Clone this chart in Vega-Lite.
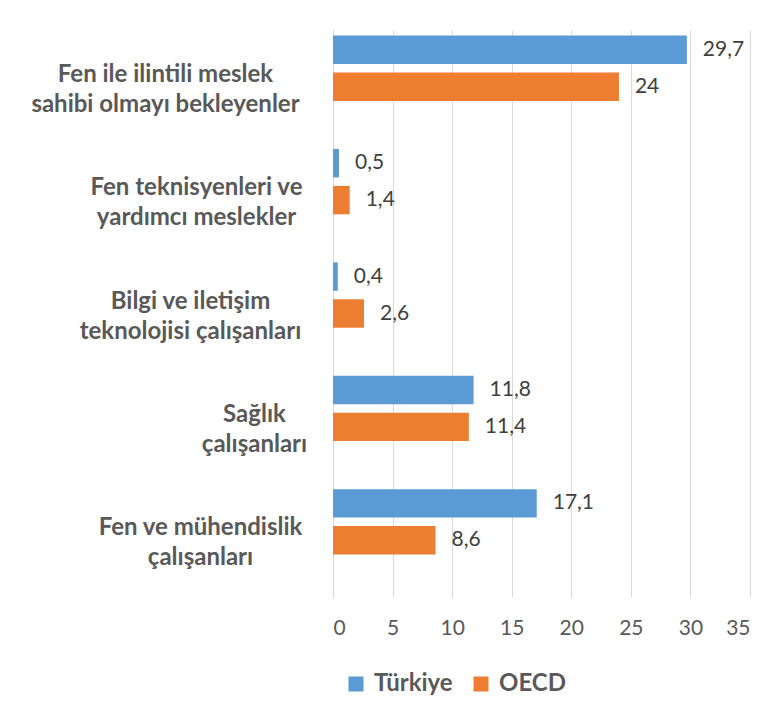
{
  "$schema": "https://vega.github.io/schema/vega-lite/v6.json",
  "width": 417,
  "height": 567,
  "autosize": {"type": "none"},
  "padding": {"left": 333, "top": 30, "right": 30, "bottom": 129},
  "background": "white",
  "config": {
    "font": "Lato",
    "view": {"stroke": null},
    "locale": {"number": {"decimal": ",", "thousands": ".", "grouping": [3], "currency": ["", " TL"]}}
  },
  "data": {
    "values": [
      {"category": "Fen ile ilintili meslek sahibi olmayı bekleyenler", "series": "Türkiye", "value": 29.7},
      {"category": "Fen ile ilintili meslek sahibi olmayı bekleyenler", "series": "OECD", "value": 24},
      {"category": "Fen teknisyenleri ve yardımcı meslekler", "series": "Türkiye", "value": 0.5},
      {"category": "Fen teknisyenleri ve yardımcı meslekler", "series": "OECD", "value": 1.4},
      {"category": "Bilgi ve iletişim teknolojisi çalışanları", "series": "Türkiye", "value": 0.4},
      {"category": "Bilgi ve iletişim teknolojisi çalışanları", "series": "OECD", "value": 2.6},
      {"category": "Sağlık çalışanları", "series": "Türkiye", "value": 11.8},
      {"category": "Sağlık çalışanları", "series": "OECD", "value": 11.4},
      {"category": "Fen ve mühendislik çalışanları", "series": "Türkiye", "value": 17.1},
      {"category": "Fen ve mühendislik çalışanları", "series": "OECD", "value": 8.6}
    ]
  },
  "encoding": {
    "y": {
      "field": "category",
      "type": "nominal",
      "sort": null,
      "scale": {"paddingInner": 0, "paddingOuter": 0},
      "axis": {
        "title": null,
        "ticks": false,
        "domain": true,
        "domainColor": "#D9D9D9",
        "domainWidth": 1,
        "labelFont": "Lato",
        "labelFontWeight": "bold",
        "labelFontSize": 24,
        "labelColor": "#595959",
        "labelAlign": "center",
        "labelBaseline": "middle",
        "labelLineHeight": 30,
        "labelOffset": -12,
        "labelLimit": 400,
        "labelPadding": {
          "condition": [
            {"test": "datum.value == 'Fen ile ilintili meslek sahibi olmayı bekleyenler'", "value": 168},
            {"test": "datum.value == 'Fen teknisyenleri ve yardımcı meslekler'", "value": 137},
            {"test": "datum.value == 'Bilgi ve iletişim teknolojisi çalışanları'", "value": 143},
            {"test": "datum.value == 'Sağlık çalışanları'", "value": 79}
          ],
          "value": 133
        },
        "labelExpr": "datum.label == 'Fen ile ilintili meslek sahibi olmayı bekleyenler' ? ['Fen ile ilintili meslek', 'sahibi olmayı bekleyenler'] : datum.label == 'Fen teknisyenleri ve yardımcı meslekler' ? ['Fen teknisyenleri ve', 'yardımcı meslekler'] : datum.label == 'Bilgi ve iletişim teknolojisi çalışanları' ? ['Bilgi ve iletişim', 'teknolojisi çalışanları'] : datum.label == 'Sağlık çalışanları' ? ['Sağlık', 'çalışanları'] : ['Fen ve mühendislik', 'çalışanları']"
      }
    },
    "yOffset": {
      "field": "series",
      "type": "nominal",
      "scale": {"domain": ["Türkiye", "OECD", "_"], "paddingInner": 0.23, "paddingOuter": 0.15}
    },
    "x": {
      "field": "value",
      "type": "quantitative",
      "scale": {"domain": [0, 35], "nice": false},
      "axis": {
        "title": null,
        "values": [0, 5, 10, 15, 20, 25, 30, 35],
        "grid": true,
        "gridColor": "#D9D9D9",
        "gridWidth": 1,
        "domain": false,
        "ticks": false,
        "labelPadding": 20,
        "labelFont": "Lato",
        "labelFontSize": 21,
        "labelColor": "#595959"
      }
    }
  },
  "layer": [
    {
      "mark": {"type": "bar"},
      "encoding": {
        "color": {
          "field": "series",
          "type": "nominal",
          "sort": ["Türkiye", "OECD"],
          "scale": {"domain": ["Türkiye", "OECD"], "range": ["#5B9BD5", "#ED7D31"]},
          "legend": {
            "title": null,
            "orient": "none",
            "direction": "horizontal",
            "legendX": 11,
            "legendY": 642,
            "symbolType": "square",
            "symbolSize": 225,
            "symbolStrokeWidth": 0,
            "labelFont": "Lato",
            "labelFontWeight": "bold",
            "labelFontSize": 24,
            "labelColor": "#595959",
            "labelOffset": 6,
            "columnPadding": 16
          }
        }
      }
    },
    {
      "mark": {"type": "text", "align": "left", "baseline": "middle", "dx": 16, "fontSize": 21, "font": "Lato", "color": "#404040"},
      "encoding": {
        "text": {"field": "value", "type": "quantitative", "format": "~g"}
      }
    }
  ]
}
